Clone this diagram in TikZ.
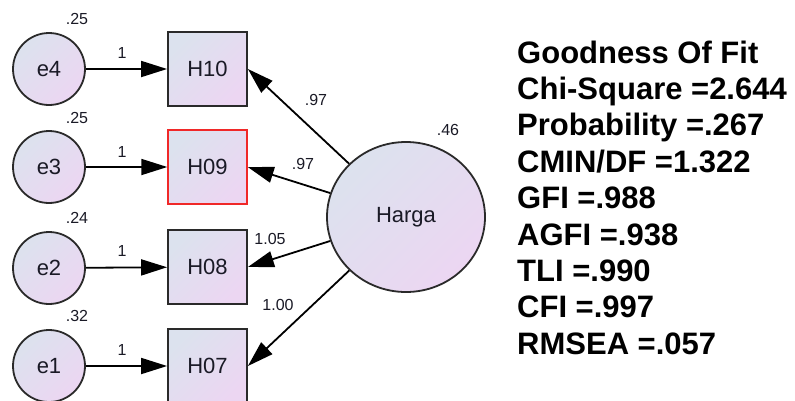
\documentclass[tikz,border=0pt]{standalone}
\usepackage{fontspec}
\setmainfont{Liberation Sans}
\usetikzlibrary{arrows.meta,shapes.geometric}
\definecolor{shadeA}{HTML}{DCE2EE}
\definecolor{shadeB}{HTML}{ECD6F2}
\definecolor{ink}{HTML}{1A1A26}
\definecolor{rim}{HTML}{2A2A2A}
\definecolor{flag}{HTML}{F02828}
\begin{document}
\begin{tikzpicture}[x=1pt,y=-1pt,
  filled/.style={top color=shadeA, bottom color=shadeB, shading angle=45},
  errvar/.style={circle, draw=rim, line width=1.8pt, filled, minimum size=72pt,
    inner sep=0pt, text=ink, font=\fontsize{22}{26}\selectfont},
  factor/.style={ellipse, draw=rim, line width=1.8pt, filled, minimum width=158pt,
    minimum height=150pt, inner sep=0pt, text=ink, font=\fontsize{22}{26}\selectfont},
  item/.style={rectangle, draw=rim, line width=1.8pt, filled, minimum width=79pt,
    minimum height=74pt, inner sep=0pt, text=ink, font=\fontsize{22}{26}\selectfont},
  loading/.style={line width=1.8pt, draw=black, -{Triangle[length=26pt,width=16pt]}},
  coef/.style={inner sep=0pt, text=ink, font=\fontsize{16}{19}\selectfont},
  fitline/.style={inner sep=0pt, anchor=base west, font=\fontsize{31}{36}\selectfont\bfseries}]
  \path[use as bounding box, fill=white] (0,0) rectangle (795,400);

  % error terms
  \node[errvar] (e4) at (49,69) {e4};
  \node[errvar] (e3) at (49,167) {e3};
  \node[errvar] (e2) at (49,268) {e2};
  \node[errvar] (e1) at (49,366) {e1};

  % indicators
  \node[item] (h10) at (207.5,69) {H10};
  \node[item, draw=flag, line width=1.4pt] (h09) at (207.5,167) {H09};
  \node[item] (h08) at (207.5,267) {H08};
  \node[item] (h07) at (207.5,366) {H07};

  % latent factor
  \node[factor] (harga) at (406,217) {Harga};

  % error paths
  \draw[loading] (e4) -- (h10);
  \draw[loading] (e3) -- (h09);
  \draw[loading] (e2) -- (h08);
  \draw[loading] (e1) -- (h07);

  % factor loadings
  \draw[loading] (harga) -- (h10.east);
  \draw[loading] (harga) -- (h09.east);
  \draw[loading] (harga) -- (h08.east);
  \draw[loading] (harga) -- (h07.east);

  % variances and weights
  \node[coef] (v4) at (77,19) {.25};
  \node[coef] (v3) at (77,118) {.25};
  \node[coef] (v2) at (77,218) {.24};
  \node[coef] (v1) at (77,316) {.32};
  \node[coef] (w4) at (122,53) {1};
  \node[coef] (w3) at (122,152) {1};
  \node[coef] (w2) at (122,251) {1};
  \node[coef] (w1) at (122,350) {1};
  \node[coef] (l10) at (316,100) {.97};
  \node[coef] (l09) at (303,164) {.97};
  \node[coef] (l08) at (270,239) {1.05};
  \node[coef] (l07) at (278,305) {1.00};
  \node[coef] (r2) at (448,130) {.46};

  % fit summary
  \foreach \t [count=\i from 0] in {Goodness Of Fit, Chi-Square =2.644,
      Probability =.267, CMIN/DF =1.322, GFI =.988, AGFI =.938,
      TLI =.990, CFI =.997, RMSEA =.057}
    \node[fitline] (fit\i) at (517,63+36.4*\i) {\t};
\end{tikzpicture}
\end{document}
